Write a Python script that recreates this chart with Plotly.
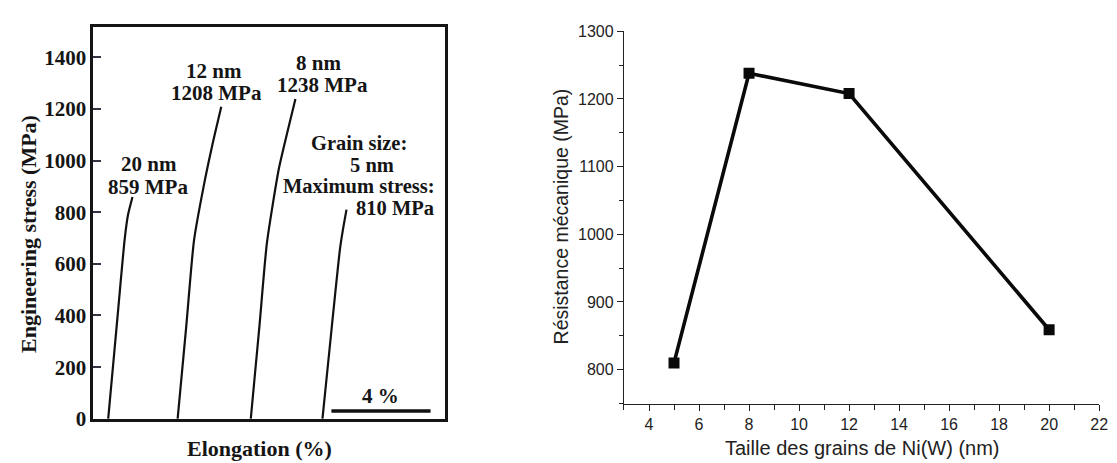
import plotly.graph_objects as go

# ---------------- Data ----------------
# Left panel: stress-strain curves (strain in %, stress in MPa)
curve_20nm_strain = [0.60, 1.00, 1.27, 1.40, 1.58]
curve_20nm_stress = [0, 420, 700, 790, 859]
curve_12nm_strain = [3.40, 3.75, 4.06, 4.45, 4.80, 5.16]
curve_12nm_stress = [0, 360, 690, 900, 1060, 1208]
curve_8nm_strain = [6.35, 6.70, 7.00, 7.48, 7.80, 8.15]
curve_8nm_stress = [0, 360, 680, 967, 1100, 1238]
curve_5nm_strain = [9.24, 9.60, 9.95, 10.08, 10.21]
curve_5nm_stress = [0, 340, 660, 740, 810]

left_yticks = [0, 200, 400, 600, 800, 1000, 1200, 1400]
scale_bar_start = 9.6      # strain %
scale_bar_length = 4       # strain %
scale_bar_level = 30       # MPa

# Right panel: strength vs grain size
grain_size_nm = [5, 8, 12, 20]
strength_mpa = [810, 1238, 1208, 859]

W, H = 1117, 463
SERIF = "Liberation Serif"
SANS = "Liberation Sans"

def px_x(p):
    return p / W

def px_y(p):
    return (H - p) / H

fig = go.Figure()

curve_col = "#111111"
for xs, ys in [(curve_20nm_strain, curve_20nm_stress),
               (curve_12nm_strain, curve_12nm_stress),
               (curve_8nm_strain, curve_8nm_stress),
               (curve_5nm_strain, curve_5nm_stress)]:
    fig.add_trace(go.Scatter(x=xs, y=ys, mode="lines", xaxis="x", yaxis="y",
                             line=dict(color=curve_col, width=2.2, shape="spline", smoothing=0.6),
                             showlegend=False, hoverinfo="skip"))

# scale bar
fig.add_trace(go.Scatter(x=[scale_bar_start, scale_bar_start + scale_bar_length],
                         y=[scale_bar_level, scale_bar_level], mode="lines",
                         xaxis="x", yaxis="y", line=dict(color="#111111", width=3.5),
                         showlegend=False, hoverinfo="skip"))

# right panel
fig.add_trace(go.Scatter(x=grain_size_nm, y=strength_mpa, mode="lines+markers",
                         xaxis="x2", yaxis="y2",
                         line=dict(color="#0a0a0a", width=3.6),
                         marker=dict(symbol="square", size=11, color="#0a0a0a"),
                         showlegend=False))

ann_font = dict(family=SERIF, size=21, color="#151515", weight="bold")
annotations = []

def add_text(text, x, y, size=21):
    f = dict(ann_font)
    f["size"] = size
    annotations.append(dict(text=text, x=x, y=y, xref="x", yref="y",
                            showarrow=False, font=f, xanchor="center", yanchor="middle"))

add_text("20 nm", 2.24, 985)
add_text("859 MPa", 2.20, 896)
add_text("12 nm", 4.86, 1348)
add_text("1208 MPa", 4.96, 1263)
add_text("8 nm", 9.08, 1378)
add_text("1238 MPa", 9.24, 1293)
add_text("Grain size:", 10.72, 1068, 20.5)
add_text("5 nm", 11.24, 984, 20.5)
add_text("Maximum stress:", 10.72, 900, 20.5)
add_text("810 MPa", 12.16, 816, 20.5)
add_text("4 %", scale_bar_start + scale_bar_length / 2, 89)

# Axis titles left (as paper annotations)
annotations.append(dict(text="Elongation (%)", x=px_x(254), y=px_y(452), xref="paper", yref="paper",
                        showarrow=False, xanchor="center", yanchor="middle",
                        font=dict(family=SERIF, size=22, color="#151515", weight="bold")))
annotations.append(dict(text="Engineering stress (MPa)", x=px_x(20), y=px_y(228), xref="paper", yref="paper",
                        showarrow=False, xanchor="center", yanchor="middle", textangle=-90,
                        font=dict(family=SERIF, size=22, color="#151515", weight="bold")))
# Axis titles right
annotations.append(dict(text="Taille des grains de Ni(W) (nm)", x=px_x(861), y=px_y(452), xref="paper", yref="paper",
                        showarrow=False, xanchor="center", yanchor="middle",
                        font=dict(family=SANS, size=20, color="#222222")))
annotations.append(dict(text="Résistance mécanique (MPa)", x=px_x(557), y=px_y(210), xref="paper", yref="paper",
                        showarrow=False, xanchor="center", yanchor="middle", textangle=-90,
                        font=dict(family=SANS, size=19.5, color="#222222")))

fig.update_layout(
    width=W, height=H,
    margin=dict(l=0, r=0, t=0, b=0),
    paper_bgcolor="white", plot_bgcolor="white",
    showlegend=False,
    annotations=annotations,
    xaxis=dict(domain=[px_x(86), px_x(441)], range=[0, 14.2], showgrid=False, zeroline=False,
               showline=True, mirror=True, linecolor="#151515", linewidth=2.5,
               ticks="", showticklabels=False, fixedrange=True),
    yaxis=dict(domain=[px_y(421), px_y(12)], range=[0, 1515], showgrid=False, zeroline=False,
               showline=True, mirror=True, linecolor="#151515", linewidth=2.5,
               tickmode="array", tickvals=left_yticks, ticks="inside", ticklen=8, tickwidth=1.5,
               tickcolor="#334", tickfont=dict(family=SERIF, size=21, color="#151515", weight="bold"),
               anchor="x", fixedrange=True),
    xaxis2=dict(domain=[px_x(621), px_x(1100)], range=[3, 22], showgrid=False, zeroline=False,
                showline=True, linecolor="#222222", linewidth=1.3,
                tick0=4, dtick=2, ticks="outside", ticklen=6, tickwidth=1.2, tickcolor="#222222",
                minor=dict(dtick=1, ticks="outside", ticklen=5, tickwidth=1.2, tickcolor="#222222"),
                tickfont=dict(family=SANS, size=16, color="#222222"), anchor="y2", fixedrange=True),
    yaxis2=dict(domain=[px_y(405), px_y(16)], range=[750, 1300], showgrid=False, zeroline=False,
                showline=True, linecolor="#222222", linewidth=1.3,
                tick0=800, dtick=100, ticks="outside", ticklen=6, tickwidth=1.2, tickcolor="#222222",
                minor=dict(dtick=50, ticks="outside", ticklen=4, tickwidth=1.2, tickcolor="#222222"),
                tickfont=dict(family=SANS, size=16, color="#222222"), anchor="x2", fixedrange=True),
)

fig.write_html("out.html")
